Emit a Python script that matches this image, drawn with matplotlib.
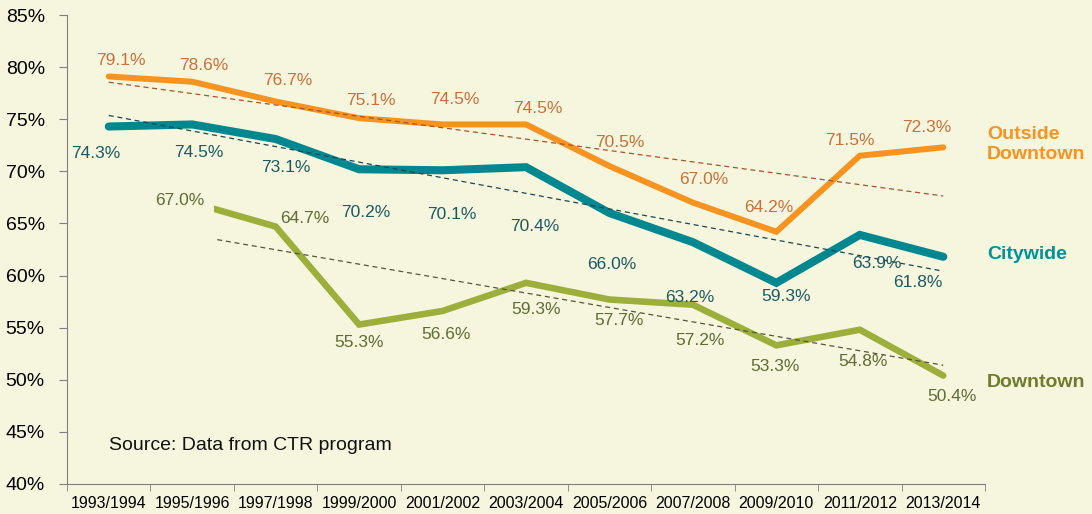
import numpy as np
import matplotlib
matplotlib.use("Agg")
import matplotlib.pyplot as plt

plt.rcParams['font.family'] = ['Liberation Sans', 'DejaVu Sans']

years = ['1993/1994', '1995/1996', '1997/1998', '1999/2000', '2001/2002', '2003/2004',
         '2005/2006', '2007/2008', '2009/2010', '2011/2012', '2013/2014']
outside = [79.1, 78.6, 76.7, 75.1, 74.5, 74.5, 70.5, 67.0, 64.2, 71.5, 72.3]
citywide = [74.3, 74.5, 73.1, 70.2, 70.1, 70.4, 66.0, 63.2, 59.3, 63.9, 61.8]
downtown = [67.0, 64.7, 55.3, 56.6, 59.3, 57.7, 57.2, 53.3, 54.8, 50.4]

BG = '#F6F5DE'
x_all = np.arange(len(years))
x_dt = np.arange(1, len(years))

fig = plt.figure(figsize=(10.92, 5.14), dpi=100, facecolor=BG)
ax = fig.add_axes([0.0614, 0.0584, 0.8406, 0.9124], facecolor=BG)

# label offsets in pixels
off_out = [(12, 16), (12, 16), (12, 21), (12, 18), (12, 25), (12, 16), (10, 24), (11, 23), (-8, 24), (-10, 15), (-17, 20)]
off_city = [(-13, -27), (7, -28), (10, -28), (7, -43), (9, -44), (9, -59), (2, -51), (-3, -55), (10, -14), (17, -29), (-25, -26)]
off_dt = [(-12, 2), (29, 8), (0, -18), (3, -24), (10, -27), (10, -21), (7, -36), (-1, -21), (3, -32), (9, -21)]

series = [
    (x_all, outside, '#F7931E', 4.3, '#C9713A', '#A8542A', off_out, 0),
    (x_all, citywide, '#00878F', 5.8, '#1B5A61', '#1E4650', off_city, 0),
    (x_dt, downtown, '#9BAF3A', 4.7, '#5F6C34', '#55553A', off_dt, 0.3),
]

for xs, ys, col, lw, tcol, dcol, offs, trim in series:
    ax.plot(xs, ys, color=col, lw=lw, solid_capstyle='round', solid_joinstyle='miter', zorder=3)
    k, b = np.polyfit(xs, ys, 1)
    tx = np.array([xs[0] + trim, xs[-1]])
    ax.plot(tx, k * tx + b, color=dcol, lw=0.9, ls=(0, (4, 3)), zorder=4)
    for i, (xv, yv) in enumerate(zip(xs, ys)):
        kw = {}
        if trim and i == 0:
            kw['bbox'] = dict(boxstyle='square,pad=0.55', fc=BG, ec='none')
        ax.annotate('%.1f%%' % yv, (xv, yv), xytext=offs[i], textcoords='offset pixels',
                    ha='center', va='center', fontsize=12.5, color=tcol, zorder=5, **kw)

ax.set_xlim(-0.5, len(years) - 0.5)
ax.set_ylim(40, 85)
ax.set_yticks(np.arange(40, 86, 5))
ax.set_yticklabels(['%d%%' % v for v in range(40, 86, 5)], fontsize=14)
ax.set_xticks(x_all)
ax.set_xticklabels(years, fontsize=11.5)
ax.set_xticks(np.arange(-0.5, len(years)), minor=True)
ax.tick_params(axis='x', which='major', length=0, pad=9)
ax.tick_params(axis='x', which='minor', length=5, color='#7F7F7F')
ax.tick_params(axis='y', length=6, color='#7F7F7F', pad=10)
for s in ['top', 'right']:
    ax.spines[s].set_visible(False)
for s in ['left', 'bottom']:
    ax.spines[s].set_color('#7F7F7F')

ax.text(0, 43.7, 'Source: Data from CTR program', fontsize=14, va='center', ha='left', color='#111111')

ax.annotate('Outside\nDowntown', (1.002, 0.724), xycoords='axes fraction', fontsize=14, fontweight='bold',
            color='#F7931E', ha='left', va='center', linespacing=1.25, annotation_clip=False)
ax.annotate('Citywide', (1.002, 0.49), xycoords='axes fraction', fontsize=14, fontweight='bold',
            color='#00939B', ha='left', va='center', annotation_clip=False)
ax.annotate('Downtown', (1.002, 0.217), xycoords='axes fraction', fontsize=14, fontweight='bold',
            color='#6E7D2C', ha='left', va='center', annotation_clip=False)

fig.savefig('out.png', dpi=100, facecolor=BG)
